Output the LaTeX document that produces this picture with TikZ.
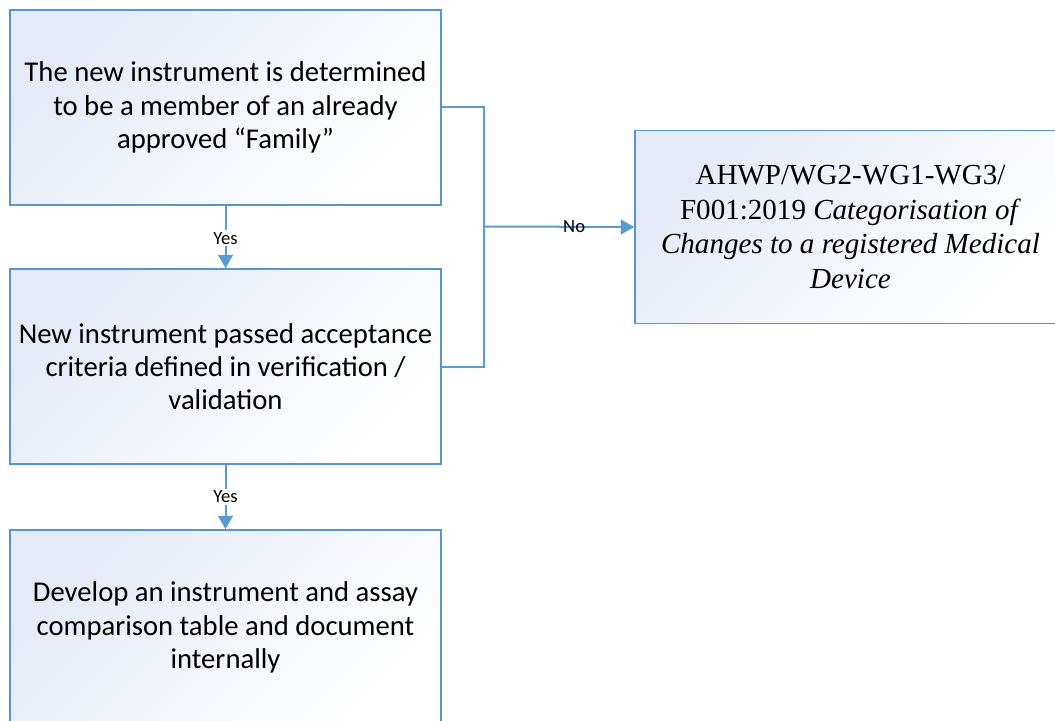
\documentclass[tikz,border=0pt]{standalone}
\usepackage{fontspec}
\setmainfont{Carlito}
\newfontfamily\tnr{Liberation Serif}
\usetikzlibrary{arrows.meta}
\definecolor{lineblue}{HTML}{5B9BD5}
\definecolor{boxblue}{HTML}{5B93CF}
\definecolor{shadeblue}{HTML}{E4EAF6}
\tikzset{
  box/.style={draw=boxblue, line width=1.1pt, shade, top color=shadeblue, bottom color=white, shading angle=45,
    minimum width=323.25pt, minimum height=146.25pt, align=center, inner sep=4pt,
    font=\fontsize{21.5}{25}\selectfont},
  conn/.style={draw=lineblue, line width=1.5pt},
  arr/.style={conn, -{Triangle[length=10pt,width=11pt]}},
  lbl/.style={font=\fontsize{14}{16}\selectfont, inner sep=1.5pt}
}
\begin{document}
\begin{tikzpicture}[x=0.75pt,y=-0.75pt]
\useasboundingbox (0,0) rectangle (1055,720);
\node[box] (b1) at (225.5,107.5) {The new instrument is determined\\to be a member of an already\\approved “Family”};
\node[box] (b2) at (225.5,366.5) {New instrument passed acceptance\\criteria defined in verification /\\validation};
\node[box] (b3) at (225.5,627.5) {Develop an instrument and assay\\comparison table and document\\internally};
\node[box, minimum height=144.75pt, font=\tnr\fontsize{21.8}{25.8}\selectfont] (b4) at (850.5,227)
  {AHWP/WG2-WG1-WG3/\\F001:2019 \textit{Categorisation of}\\\textit{Changes to a registered Medical}\\\textit{Device}};
\coordinate (j) at (484,226.5);
\draw[conn] (b1.east) -| (j);
\draw[conn] (b2.east) -| (j);
\draw[arr] (j) -- node[lbl, pos=0.6] (no) {No} (b4.west);
\draw[arr] (b1.south) -- node[lbl, fill=white, pos=0.52] (y1) {Yes} (b2.north);
\draw[arr] (b2.south) -- node[lbl, fill=white, pos=0.5] (y2) {Yes} (b3.north);
\end{tikzpicture}
\end{document}
